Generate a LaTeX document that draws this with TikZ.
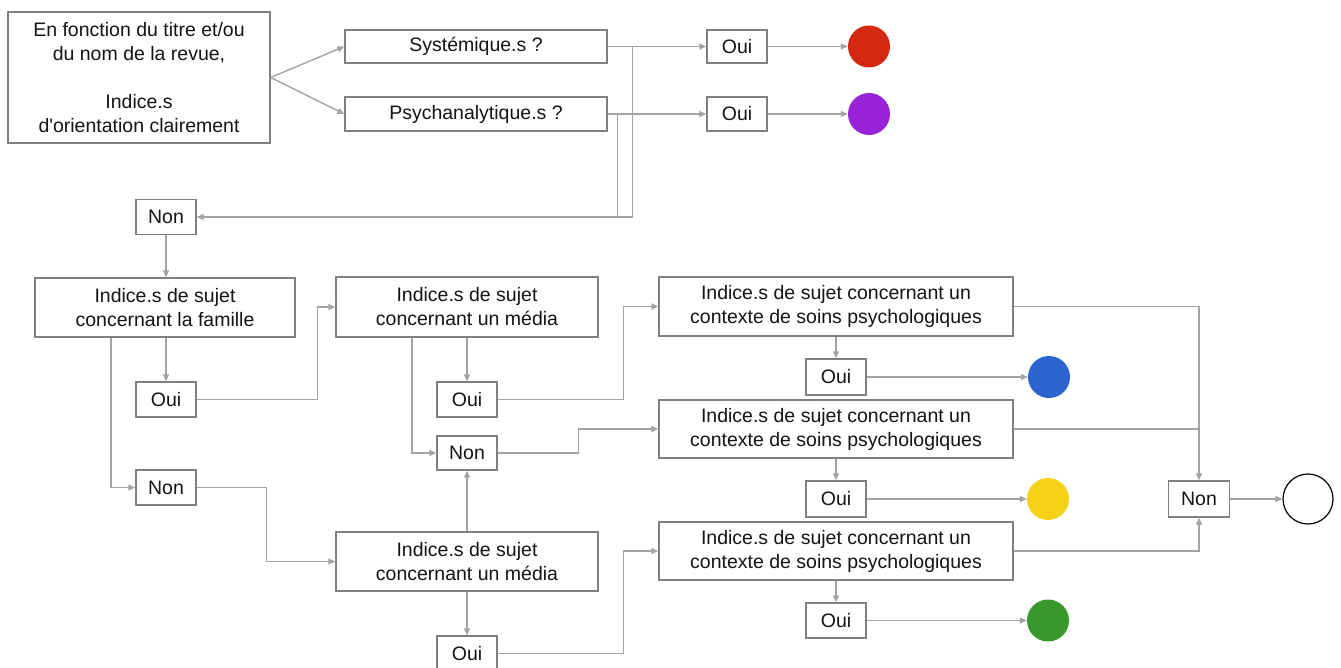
\documentclass[tikz,border=0pt]{standalone}
\usepackage{fontspec}
\setmainfont{Liberation Sans}
\newfontfamily\diagfont{Liberation Sans}
\usetikzlibrary{arrows.meta}

\definecolor{linegray}{RGB}{163,163,163}
\definecolor{boxgray}{RGB}{128,128,128}
\definecolor{txt}{RGB}{20,20,20}
\definecolor{cred}{RGB}{214,40,16}
\definecolor{cpurple}{RGB}{152,34,214}
\definecolor{cblue}{RGB}{43,99,207}
\definecolor{cyellow}{RGB}{245,210,22}
\definecolor{cgreen}{RGB}{56,152,44}

\tikzset{
  stepbox/.style={draw=boxgray, line width=1.4pt, fill=white, text=txt,
    inner sep=0pt, align=center, font=\diagfont\fontsize{19.5}{24}\selectfont},
  wide/.style={stepbox, minimum width=262pt, minimum height=59pt},
  widest/.style={stepbox, minimum width=354pt, minimum height=59pt},
  answer/.style={stepbox, minimum width=60pt, minimum height=35pt},
  dot/.style={circle, inner sep=0pt, minimum size=42pt},
  link/.style={draw=linegray, line width=1.4pt},
  flow/.style={link, -{Triangle[length=7pt,width=6pt]}}
}

\begin{document}
\begin{tikzpicture}[x=1pt, y=-1pt]
\useasboundingbox (0,0) rectangle (1341,668);

% first question: orientation of the journal
\node[stepbox, minimum width=262pt, minimum height=131pt] (intro) at (139,77.5)
  {En fonction du titre et/ou\\du nom de la revue,\\[24pt]Indice.s\\d'orientation clairement};
\node[stepbox, minimum width=262pt, minimum height=33pt] (sys) at (476,46.5) {Systémique.s ?};
\node[stepbox, minimum width=262pt, minimum height=34pt] (psy) at (476,114) {Psychanalytique.s ?};
\node[answer, minimum height=33pt] (oui1) at (737,46.5) {Oui};
\node[answer, minimum height=34pt] (oui2) at (737,114) {Oui};
\node[dot, fill=cred] (red) at (869,46.5) {};
\node[dot, fill=cpurple] (purple) at (869,114) {};
\node[answer] (non0) at (166,217) {Non};

% family / media questions
\node[wide, minimum width=260pt] (fam) at (165,307.5)
  {Indice.s de sujet\\concernant la famille};
\node[answer] (famOui) at (166,399.5) {Oui};
\node[answer] (famNon) at (166,487.5) {Non};
\node[wide, minimum height=60pt] (med1) at (467,307) {Indice.s de sujet\\concernant un média};
\node[answer] (m1Oui) at (467,399.5) {Oui};
\node[answer, minimum height=34pt] (m1Non) at (467,453) {Non};
\node[wide] (med2) at (467,561.5) {Indice.s de sujet\\concernant un média};
\node[answer] (m2Oui) at (467,653.5) {Oui};

% care-context questions
\node[widest] (ps1) at (836,306.5)
  {Indice.s de sujet concernant un\\contexte de soins psychologiques};
\node[answer, minimum height=36pt] (ps1Oui) at (836,377) {Oui};
\node[widest, minimum height=58pt] (ps2) at (836,429)
  {Indice.s de sujet concernant un\\contexte de soins psychologiques};
\node[answer, minimum height=36pt] (ps2Oui) at (836,499) {Oui};
\node[widest, minimum height=58pt] (ps3) at (836,551)
  {Indice.s de sujet concernant un\\contexte de soins psychologiques};
\node[answer] (ps3Oui) at (836,620.5) {Oui};
\node[dot, fill=cblue] (blue) at (1049,377) {};
\node[dot, fill=cyellow] (yellow) at (1048,499) {};
\node[dot, fill=cgreen] (green) at (1048,620.5) {};
\node[answer, minimum width=61pt, minimum height=36pt] (nonEnd) at (1199,499) {Non};
\node[circle, draw=black, line width=1.2pt, inner sep=0pt, minimum size=50pt] (open) at (1308,499) {};

% connectors, top part
\coordinate (fork) at (intro.east);
\draw[flow] (fork) -- (sys.west);
\draw[flow] (fork) -- (psy.west);
\draw[flow] (sys.east) -- (oui1.west);
\draw[flow] (psy.east) -- (oui2.west);
\draw[flow] (oui1.east) -- (red.west);
\draw[flow] (oui2.east) -- (purple.west);
\coordinate (jsys) at ([xshift=25pt]sys.east);
\coordinate (jpsy) at ([xshift=10pt]psy.east);
\draw[flow] (jsys) |- (non0.east);
\draw[link] (jpsy) -- (jpsy |- non0.east);
\draw[flow] (non0.south) -- (non0.south |- fam.north);

% connectors, family / media
\coordinate (famL) at ([xshift=-54pt]fam.south);
\draw[flow] (famOui.north |- fam.south) -- (famOui.north);
\draw[flow] (famL) |- (famNon.west);
\draw[flow] (famOui.east) -- ++(121,0) |- (med1.west);
\draw[flow] (famNon.east) -- ++(70,0) |- (med2.west);
\coordinate (medL) at ([xshift=-55pt]med1.south);
\draw[flow] (med1.south) -- (m1Oui.north);
\draw[flow] (medL) |- (m1Non.west);
\draw[flow] (med2.north) -- (m1Non.south);
\draw[flow] (med2.south) -- (m2Oui.north);
\draw[flow] (m1Oui.east) -- ++(126,0) |- (ps1.west);
\draw[flow] (m1Non.east) -- ++(81,0) |- (ps2.west);
\draw[flow] (m2Oui.east) -- ++(126,0) |- (ps3.west);

% connectors, care context
\draw[flow] (ps1.south) -- (ps1Oui.north);
\draw[flow] (ps2.south) -- (ps2Oui.north);
\draw[flow] (ps3.south) -- (ps3Oui.north);
\draw[flow] (ps1Oui.east) -- (blue.west);
\draw[flow] (ps2Oui.east) -- (yellow.west);
\draw[flow] (ps3Oui.east) -- (green.west);
\draw[flow] (ps1.east) -| (nonEnd.north);
\draw[link] (ps2.east) -- (ps2.east -| nonEnd.north);
\draw[flow] (ps3.east) -| (nonEnd.south);
\draw[flow] (nonEnd.east) -- (open.west);
\end{tikzpicture}
\end{document}
